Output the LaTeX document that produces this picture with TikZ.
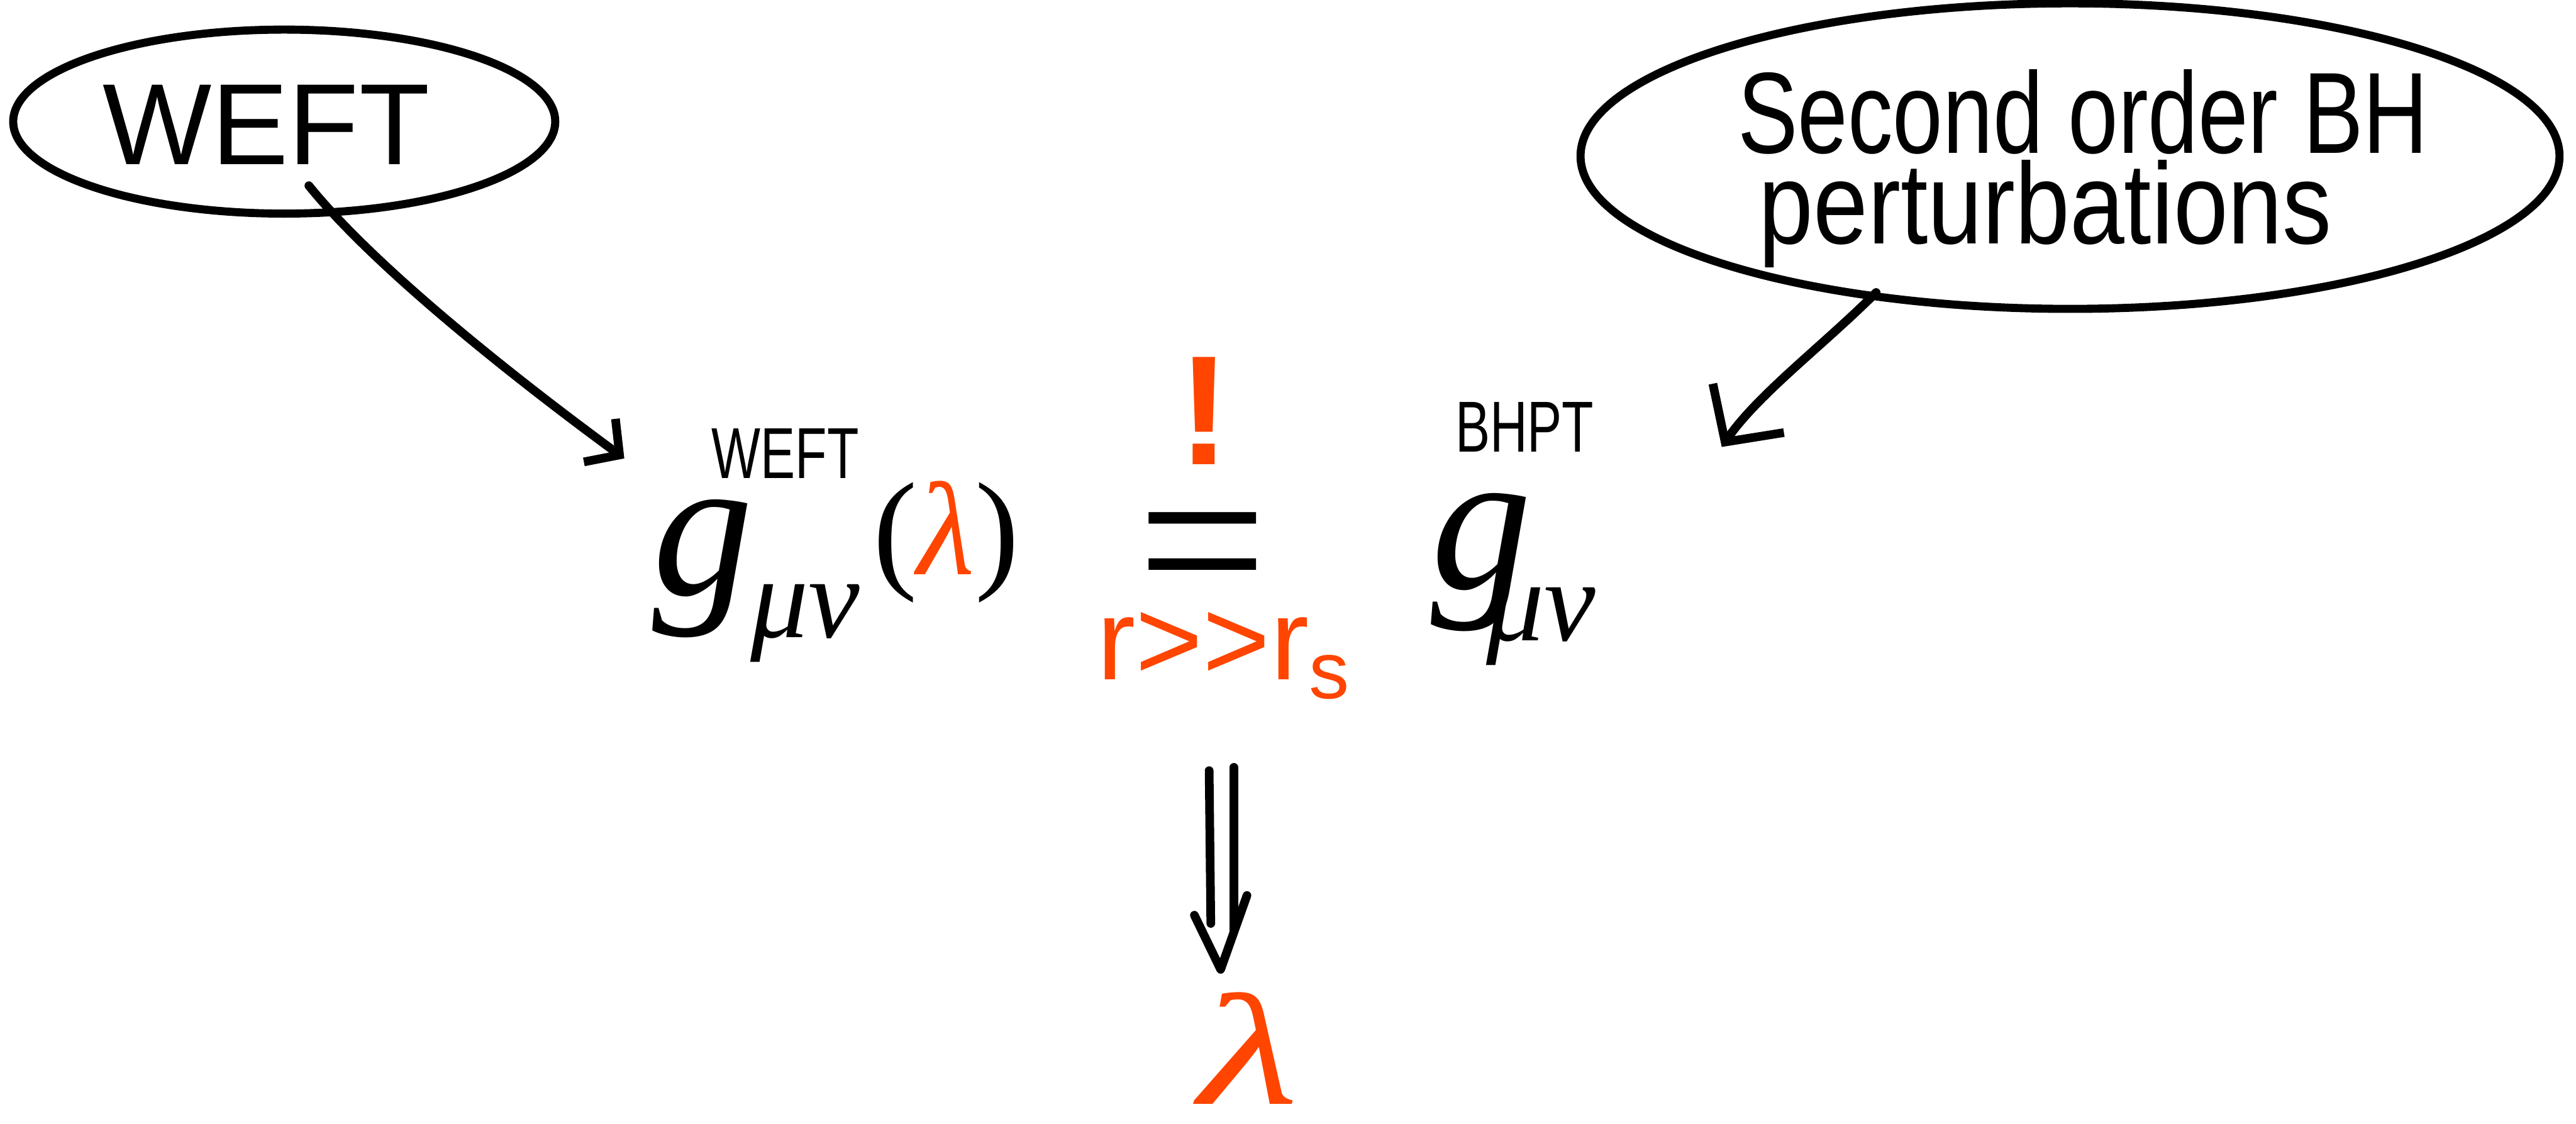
\documentclass[tikz,border=0pt]{standalone}
\usepackage{fontspec}
\setmainfont{Liberation Sans}
\newfontfamily\mfont{Liberation Serif}
\newfontfamily\plainsans[Ligatures=NoCommon]{Liberation Sans}
\usetikzlibrary{arrows.meta,calc,shapes.geometric}
\definecolor{orng}{HTML}{FF4500}
\tikzset{
  ell/.style={draw, ellipse, line width=2.8pt, inner sep=0pt},
  lbl/.style={inner sep=0pt, font=\fontsize{40}{48}\selectfont},
  gsty/.style={inner sep=0pt, anchor=base, text height=1.15cm, text depth=0.25cm,
    font=\mfont\itshape\fontsize{70}{84}\selectfont},
  supsty/.style={inner sep=0pt, font=\fontsize{25}{30}\selectfont},
  substy/.style={inner sep=0pt, anchor=base, text height=0.6cm, text depth=0.3cm,
    font=\mfont\itshape\fontsize{40}{48}\selectfont},
  parsty/.style={inner sep=0pt, font=\mfont\fontsize{46}{54}\selectfont},
  bangsty/.style={inner sep=0pt, text=orng, font=\fontsize{54}{64}\selectfont\bfseries},
  eqsty/.style={inner sep=0pt, anchor=base, text height=1.15cm, text depth=0cm,
    font=\mfont\fontsize{80}{96}\selectfont},
  condsty/.style={inner sep=0pt, text=orng, font=\plainsans\fontsize{40}{48}\selectfont},
  lamsty/.style={inner sep=0pt, anchor=base, text height=1.35cm, text depth=0cm, text=orng,
    font=\mfont\itshape\fontsize{55}{66}\selectfont},
  conn/.style={line width=3pt, line cap=round, line join=round},
}
\begin{document}
\begin{tikzpicture}[x=0.02cm, y=-0.02cm]
\useasboundingbox (0,0) rectangle (1568,684);
% ellipses
\node[ell, minimum width=6.6cm, minimum height=2.24cm] (weftell) at (173,74) {};
\node[lbl] (wefttxt) at (162,76) {WEFT};
\node[ell, minimum width=11.92cm, minimum height=3.72cm] (bhell) at (1260,95) {};
\node[lbl] (bh1) at (1268,68) {\scalebox{0.78}[1]{Second order BH}};
\node[lbl] (bh2) at (1245,130) {\scalebox{0.85}[1]{perturbations}};
% left formula
\node[gsty] (g1) at (428,362) {g};
\node[supsty] (s1) at (478,276) {\scalebox{0.72}[1]{WEFT}};
\node[substy] (m1) at (490,388) {μν};
\node[parsty] (p1) at (576,330) {(\textcolor{orng}{\itshape λ})};
% equality
\node[bangsty] (bang) at (733,250) {!};
\node[eqsty] (eq) at (732,376) {=};
\node[condsty] (cond) at (745,399) {r>{}>r\textsubscript{s}};
% right formula
\node[gsty] (g2) at (902,358) {g};
\node[supsty] (s2) at (928,260) {\scalebox{0.72}[1]{BHPT}};
\node[substy] (m2) at (938,390) {μν};
% result
\node[lamsty] (lam) at (760,672) {\scalebox{1.45}[1]{λ}};
% connectors
\coordinate (a1s) at (188,113);
\coordinate (a1e) at (380,279);
\draw[conn, -{Straight Barb[length=0.3cm, width=0.65cm, line width=3pt]}]
  (a1s) .. controls (230,165) and (320,235) .. (a1e);
\coordinate (a2s) at (1142,178);
\coordinate (a2e) at (1048,272);
\draw[conn, -{Straight Barb[length=0.5cm, width=1.05cm, line width=3pt]}]
  (a2s) .. controls (1110,210) and (1070,240) .. (a2e);
% implication arrow
\coordinate (dtop) at (743,469);
\coordinate (dtip) at (743,590);
\draw[conn] ($(dtop)+(-7,0)$) -- ($(dtip)+(-6,-28)$);
\draw[conn] ($(dtop)+(8,-2)$) -- ($(dtip)+(8,-24)$);
\draw[conn] ($(dtip)+(-16,-33)$) -- (dtip) -- ($(dtip)+(16,-45)$);
\end{tikzpicture}
\end{document}
